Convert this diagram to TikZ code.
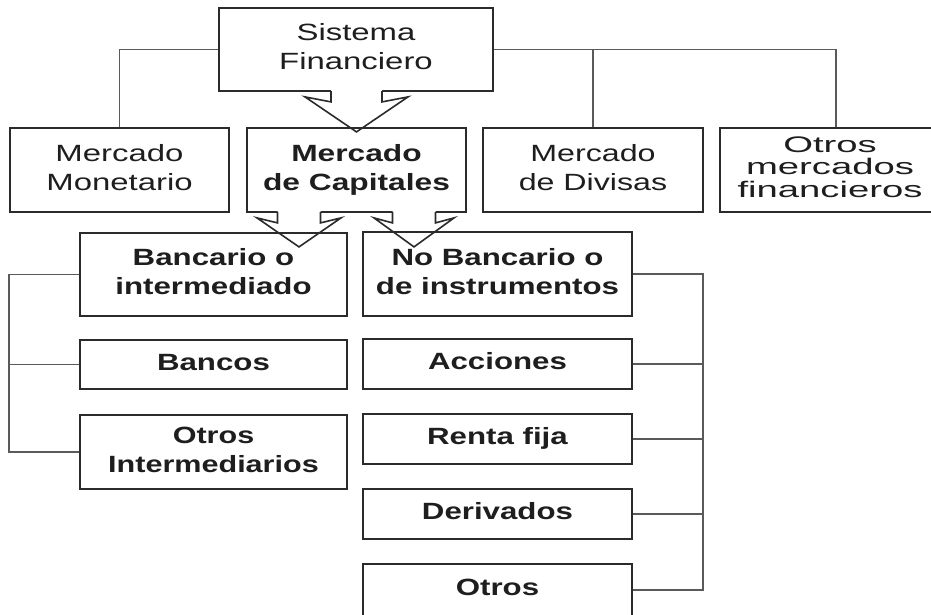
\documentclass[tikz,border=0pt]{standalone}
\usepackage{fontspec}
\usepackage{graphicx}
\setmainfont{Liberation Sans}
\usetikzlibrary{calc}
\definecolor{boxc}{HTML}{2B2B2B}
\definecolor{linec}{HTML}{5A5A5A}
\definecolor{txtc}{HTML}{1E1E1E}
\newcommand\TX[2][1.4]{\scalebox{#1}[1]{\begin{tabular}{@{}c@{}}#2\end{tabular}}}
\newcommand\BlkArrow[6]{%
  \fill[white] ($#1+(-#2,-3)$) -- ($#1+(-#2,#4)$) -- ($#1+(-#3,#5)$) -- ($#1+(0,#6)$) -- ($#1+(#3,#5)$) -- ($#1+(#2,#4)$) -- ($#1+(#2,-3)$) -- cycle;
  \draw[arrowline] ($#1+(-#2,-0.9)$) -- ($#1+(-#2,#4)$) -- ($#1+(-#3,#5)$) -- ($#1+(0,#6)$) -- ($#1+(#3,#5)$) -- ($#1+(#2,#4)$) -- ($#1+(#2,-0.9)$);
}
\begin{document}
\begin{tikzpicture}[x=1pt,y=-1pt,
  box/.style={draw=boxc,line width=1.8pt,inner sep=0pt,align=center,text=txtc,
    font=\fontsize{23.5}{29}\selectfont},
  bbox/.style={box,font=\bfseries\fontsize{23.5}{29}\selectfont},
  conn/.style={draw=linec,line width=1.4pt},
  arrowline/.style={draw=boxc,line width=1.6pt,line join=miter}]
\useasboundingbox (0,0) rectangle (931,614);
\fill[white] (0,0) rectangle (931,614);

% level 1 and 2
\node[box,minimum width=274,minimum height=83] (sf) at (356,49.5) {\TX{Sistema\\Financiero}};
\node[box,minimum width=219,minimum height=84] (mm) at (119.5,170) {\TX{Mercado\\Monetario}};
\node[box,minimum width=220,minimum height=84] (md) at (593,170) {\TX[1.37]{Mercado\\de Divisas}};
\node[box,minimum width=220,minimum height=84,font=\fontsize{22.5}{21}\selectfont] (mo) at (830,170) {\TX[1.7]{Otros\\mercados\\financieros}};

\draw[conn] (sf.west) -| (mm.north);
\draw[conn] (sf.east) -| (md.north);
\draw[conn] (sf.east) -| ([xshift=6pt]mo.north);

\coordinate (a0) at ($(sf.south)+(0.5,0)$);
\BlkArrow{(a0)}{25.5}{51.5}{10}{5}{40}

\node[bbox,minimum width=219,minimum height=84] (mc) at (356.5,170) {\TX[1.35]{Mercado\\de Capitales}};

\coordinate (a1) at ($(mc.south)+(-57.5,0)$);
\coordinate (a2) at ($(mc.south)+(57.5,0)$);
\BlkArrow{(a1)}{21.5}{42}{10}{5}{34}
\BlkArrow{(a2)}{21.5}{40}{10}{5}{34}

% level 3 left
\node[bbox,minimum width=267,minimum height=83] (ba) at (213.5,274.5) {\TX[1.33]{Bancario o\\intermediado}};
\node[bbox,minimum width=267,minimum height=49] (bn) at (213.5,364.5) {\TX[1.33]{Bancos}};
\node[bbox,minimum width=267,minimum height=74] (oi) at (213.5,452) {\TX[1.3]{Otros\\Intermediarios}};

% level 3 right
\node[bbox,minimum width=269,minimum height=84] (nb) at (497.5,274) {\TX[1.33]{No Bancario o\\de instrumentos}};
\node[bbox,minimum width=269,minimum height=50] (ac) at (497.5,364) {\TX[1.33]{Acciones}};
\node[bbox,minimum width=269,minimum height=50] (rf) at (497.5,439) {\TX[1.33]{Renta fija}};
\node[bbox,minimum width=269,minimum height=50] (de) at (497.5,514) {\TX[1.33]{Derivados}};
\node[bbox,minimum width=269,minimum height=52] (ot) at (497.5,590) {\TX[1.33]{Otros}};

\coordinate (lbus) at ($(ba.west)+(-70,0)$);
\draw[conn] (ba.west) -- (lbus) |- (oi.west);
\draw[conn] (bn.west) -- (bn.west -| lbus);

\coordinate (rbus) at ($(nb.east)+(70,0)$);
\draw[conn] (nb.east) -- (rbus) |- (ot.east);
\draw[conn] (ac.east) -- (ac.east -| rbus);
\draw[conn] (rf.east) -- (rf.east -| rbus);
\draw[conn] (de.east) -- (de.east -| rbus);
\end{tikzpicture}
\end{document}
